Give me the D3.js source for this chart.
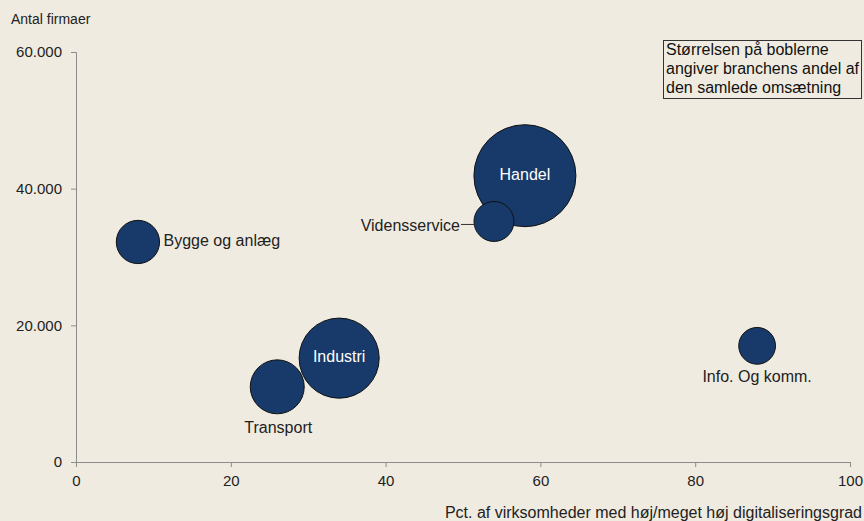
<!DOCTYPE html>
<html>
<head>
<meta charset="utf-8">
<script src="https://cdn.jsdelivr.net/npm/d3@7"></script>
<style>
  body { margin: 0; background: #f0ebe0; }
  svg { display: block; font-family: "Liberation Sans", Arial, sans-serif; }
</style>
</head>
<body>
<svg width="864" height="521"></svg>
<script>
"use strict";

// Branches: x = pct. with high digitalisation, y = number of firms, share = share of turnover
const branches = ["Bygge og anlæg", "Handel", "Vidensservice", "Industri", "Transport", "Info. Og komm."];
const digitalPct = [8, 58, 54, 34, 26, 88];
const firms = [32200, 41900, 35200, 15200, 11000, 17000];
const turnoverShare = [5.4, 30, 4.6, 18.5, 8.4, 3.9];

const xTicks = [0, 20, 40, 60, 80, 100];
const yTicks = [0, 20000, 40000, 60000];

const width = 864, height = 521;
const margin = { top: 52, right: 14, bottom: 59, left: 76 };

const svg = d3.select("svg");

svg.append("rect")
  .attr("width", width)
  .attr("height", height)
  .attr("fill", "#f0ebe0");

const x = d3.scaleLinear().domain([0, 100]).range([margin.left, width - margin.right]);
const y = d3.scaleLinear().domain([0, 60000]).range([height - margin.bottom, margin.top]);
const r = d3.scaleSqrt().domain([0, 30]).range([0, 51]);

const fmt = d => d3.format(",")(d).replace(/,/g, ".");

// axes
const xAxis = svg.append("g")
  .attr("transform", `translate(0,${y(0)})`)
  .call(d3.axisBottom(x).tickValues(xTicks).tickSize(5).tickPadding(8));

const yAxis = svg.append("g")
  .attr("transform", `translate(${x(0)},0)`)
  .call(d3.axisLeft(y).tickValues(yTicks).tickFormat(fmt).tickSize(5).tickPadding(9));

[xAxis, yAxis].forEach(a => {
  a.select(".domain").attr("stroke", "#8c8c8c");
  a.selectAll(".tick line").attr("stroke", "#8c8c8c");
  a.selectAll(".tick text")
    .attr("fill", "#222")
    .style("font-size", "15px")
    .style("font-family", "'Liberation Sans', Arial, sans-serif");
});

// axis titles
svg.append("text")
  .attr("x", 11)
  .attr("y", 24)
  .attr("fill", "#222")
  .style("font-size", "14px")
  .text("Antal firmaer");

svg.append("text")
  .attr("x", 862)
  .attr("y", 518)
  .attr("text-anchor", "end")
  .attr("fill", "#222")
  .style("font-size", "16px")
  .text("Pct. af virksomheder med høj/meget høj digitaliseringsgrad");

// note box
const note = svg.append("g");
note.append("rect")
  .attr("x", 663.5)
  .attr("y", 40.5)
  .attr("width", 198)
  .attr("height", 58)
  .attr("fill", "#f0ebe0")
  .attr("stroke", "#333");
["Størrelsen på boblerne", "angiver branchens andel af", "den samlede omsætning"].forEach((t, i) => {
  note.append("text")
    .attr("x", 666)
    .attr("y", 55 + i * 19)
    .attr("fill", "#111")
    .style("font-size", "16px")
    .text(t);
});

// bubbles, biggest first so small ones sit on top
const data = branches.map((name, i) => ({
  name, x: digitalPct[i], y: firms[i], share: turnoverShare[i]
})).sort((a, b) => b.share - a.share);

svg.append("g")
  .selectAll("circle")
  .data(data)
  .join("circle")
  .attr("cx", d => x(d.x))
  .attr("cy", d => y(d.y))
  .attr("r", d => r(d.share))
  .attr("fill", "#173a6a")
  .attr("stroke", "#111")
  .attr("stroke-width", 1);

// labels
const byName = Object.fromEntries(data.map(d => [d.name, d]));
function label(name, dx, dy, anchor, color) {
  const d = byName[name];
  svg.append("text")
    .attr("x", x(d.x) + dx)
    .attr("y", y(d.y) + dy)
    .attr("text-anchor", anchor)
    .attr("dominant-baseline", "middle")
    .attr("fill", color)
    .style("font-size", "16px")
    .text(name);
}

label("Handel", 0, 0, "middle", "#fff");
label("Industri", 0, 0, "middle", "#fff");
label("Bygge og anlæg", r(byName["Bygge og anlæg"].share) + 4, 0, "start", "#222");
label("Transport", 1, r(byName["Transport"].share) + 15, "middle", "#222");
label("Info. Og komm.", 0, r(byName["Info. Og komm."].share) + 14, "middle", "#222");

const vs = byName["Vidensservice"];
svg.append("line")
  .attr("x1", x(vs.x) - r(vs.share) - 13)
  .attr("x2", x(vs.x) - r(vs.share))
  .attr("y1", y(vs.y) + 3)
  .attr("y2", y(vs.y) + 3)
  .attr("stroke", "#333");
label("Vidensservice", -r(vs.share) - 14, 5, "end", "#222");
</script>
</body>
</html>
